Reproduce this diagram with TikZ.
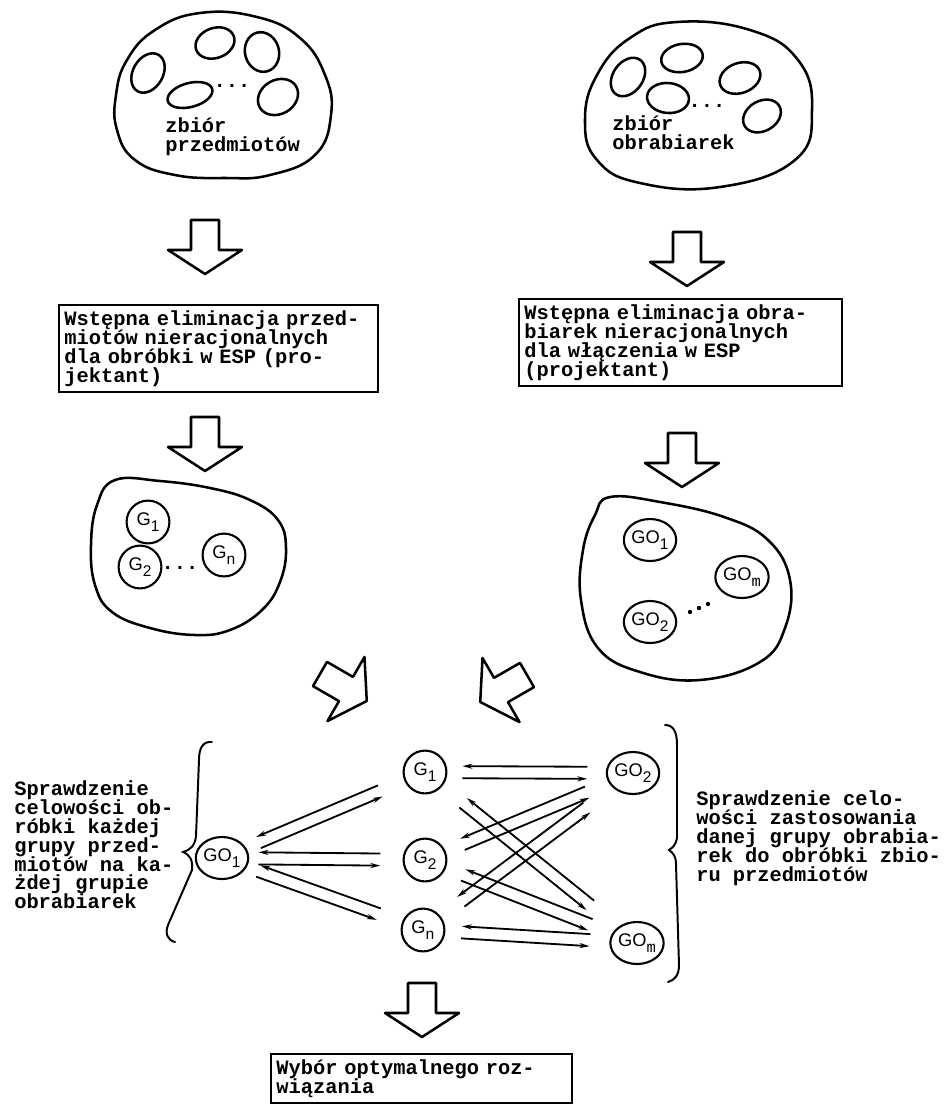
\documentclass[tikz,border=0pt]{standalone}
\usepackage{fontspec}
\setmainfont{Liberation Mono}
\newfontfamily\gfont{Liberation Sans}
\usetikzlibrary{shapes.geometric,calc,arrows.meta}

\newcommand\typefont{\fontsize{14.5}{13.5}\selectfont\bfseries\lineskiplimit=-20pt\relax}
\tikzset{
	outline/.style={line width=1.8pt, line join=round},
	typed/.style={font=\typefont, align=left, inner sep=0pt},
	box/.style={typed, draw, line width=1.2pt, inner sep=4pt, anchor=north west},
	grp/.style={draw, line width=1.5pt, circle, minimum size=1.07cm, inner sep=0pt, font=\gfont\fontsize{13}{13}\selectfont},
	grpo/.style={grp, ellipse, minimum width=1.28cm, minimum height=1.05cm},
	conn/.style={line width=1.3pt, -{Stealth[length=7pt,width=3.6pt]}},
	brace/.style={line width=1.4pt, line cap=round},
}
\newcommand\gsub[2]{#1\raisebox{-.6ex}{\fontsize{11}{11}\selectfont #2}}
% hollow block arrow: tail centre x, y, rotation
\newcommand\blockarrow[3]{%
	\draw[outline, shift={(#1,#2)}, rotate=#3] (-14,0) -- (14,0) -- (14,30) -- (37,30) -- (0,54) -- (-37,30) -- (-14,30) -- cycle;}

\begin{document}
\begin{tikzpicture}[x=0.025cm, y=-0.025cm]
	\useasboundingbox (0,0) rectangle (948,1107);
	% zbior przedmiotow
	\draw[outline] plot[smooth cycle, tension=0.75] coordinates {(200,13) (257,17) (300,38) (325,75) (331,115) (315,155) (270,175) (225,178) (175,175) (135,160) (117,130) (116,95) (127,60) (155,30)};
	\draw[outline] (215,43) ellipse [x radius=20, y radius=15, rotate=20];
	\draw[outline] (262,52) ellipse [x radius=17, y radius=20, rotate=15];
	\draw[outline] (148,73) ellipse [x radius=21, y radius=15, rotate=60];
	\draw[outline] (190,95) ellipse [x radius=23, y radius=12, rotate=15];
	\draw[outline] (278,97) ellipse [x radius=21, y radius=17, rotate=30];
	\node[typed] (kropP) at (232,86) {...};
	\node[typed, anchor=north west] (przedm) at (165,117) {zbiór\\przedmiotów};
	% zbior obrabiarek
	\draw[outline] plot[smooth cycle, tension=0.75] coordinates {(677,22) (750,30) (798,60) (812,110) (795,160) (720,187) (640,183) (597,160) (585,120) (597,75) (630,38)};
	\draw[outline] (628,77) ellipse [x radius=21, y radius=15, rotate=55];
	\draw[outline] (682,58) ellipse [x radius=21, y radius=14, rotate=10];
	\draw[outline] (740,78) ellipse [x radius=21, y radius=15, rotate=20];
	\draw[outline] (668,98) ellipse [x radius=21, y radius=15, rotate=-5];
	\draw[outline] (762,116) ellipse [x radius=20, y radius=15, rotate=30];
	\node[typed] (kropO) at (707,106) {...};
	\node[typed, anchor=north west] (obrab) at (612,115) {zbiór\\obrabiarek};
	\blockarrow{205}{220}{0}
	\blockarrow{687}{232}{0}
	\node[box, text width=7.7cm] (elimP) at (58,304) {Wstępna eliminacja przed-\\miotów nieracjonalnych\\dla obróbki w ESP (pro-\\jektant)};
	\node[box, text width=7.8cm] (elimO) at (518,298) {Wstępna eliminacja obra-\\biarek nieracjonalnych\\dla włączenia w ESP\\(projektant)};
	\blockarrow{205}{417}{0}
	\blockarrow{682}{433}{0}
	% grupy przedmiotow
	\draw[outline] plot[smooth cycle, tension=0.7] coordinates {(115,480) (160,481) (210,488) (250,500) (278,520) (286,548) (280,582) (262,610) (230,630) (195,635) (150,628) (112,612) (95,585) (91,545) (97,505)};
	\node[grp] (Ga) at (148,522) {\gsub{G}{1}};
	\node[grp] (Gb) at (140,567) {\gsub{G}{2}};
	\node[grp] (Gn) at (224,555) {\gsub{G}{\rmfamily n}};
	\node[typed] (kropG) at (180,568) {...};
	% grupy obrabiarek
	\draw[outline] plot[smooth cycle, tension=0.7] coordinates {(610,497) (660,502) (724,517) (768,540) (790,580) (785,628) (760,662) (700,680) (640,672) (598,648) (581,600) (583,550) (595,515)};
	\node[grpo] (GOa) at (650,540) {\gsub{GO}{1}};
	\node[grpo] (GOm) at (742,577) {\gsub{GO}{\rmfamily m}};
	\node[grpo] (GOb) at (650,622) {\gsub{GO}{2}};
	\foreach \k in {0,1,2} \fill ({690+9*\k},{612-4*\k}) circle (2.2);
	\blockarrow{320}{674}{60}
	\blockarrow{527}{675}{-60}
	% sprawdzenie
	\node[grpo] (mGOa) at (222,858) {\gsub{GO}{1}};
	\node[grp] (mGa) at (425,772) {\gsub{G}{1}};
	\node[grp] (mGb) at (425,860) {\gsub{G}{2}};
	\node[grp] (mGn) at (423,930) {\gsub{G}{\rmfamily n}};
	\node[grpo] (mGOb) at (633,773) {\gsub{GO}{2}};
	\node[grpo] (mGOm) at (637,943) {\gsub{GO}{\rmfamily m}};
	\foreach \nA/\nB in {mGOa/mGa, mGOa/mGb, mGOa/mGn, mGa/mGOb, mGa/mGOm, mGb/mGOb, mGb/mGOm, mGn/mGOb, mGn/mGOm}{
		\draw[conn] ($(\nA)!.78!(\nB)!4.3pt!90:(\nB)$) -- ($(\nA)!.18!(\nB)!4.3pt!90:(\nB)$);
		\draw[conn] ($(\nA)!.18!(\nB)!4.3pt!-90:(\nB)$) -- ($(\nA)!.78!(\nB)!4.3pt!-90:(\nB)$);
	}
	\draw[brace] (212,742) .. controls (203,741) and (199,748) .. (199,760) -- (196,836) .. controls (195,846) and (190,850) .. (183,852) .. controls (190,855) and (193,860) .. (192,870) -- (168,925) .. controls (165,933) and (167,940) .. (175,942);
	\draw[brace] (665,725) .. controls (673,725) and (677,731) .. (677,745) -- (677,838) .. controls (676,845) and (672,848) .. (669,850) .. controls (673,853) and (676,856) .. (676,864) -- (679,965) .. controls (679,975) and (675,980) .. (668,982);
	\node[typed, anchor=north west] (lewy) at (14,780) {Sprawdzenie\\celowości ob-\\róbki każdej\\grupy przed-\\miotów na ka-\\żdej grupie\\obrabiarek};
	\node[typed, anchor=north west] (prawy) at (696,790) {Sprawdzenie celo-\\wości zastosowania\\danej grupy obrabia-\\rek do obróbki zbio-\\ru przedmiotów};
	\blockarrow{422}{983}{0}
	\node[box, text width=7.25cm] (wybor) at (270,1053) {Wybór optymalnego roz-\\wiązania};
\end{tikzpicture}
\end{document}
